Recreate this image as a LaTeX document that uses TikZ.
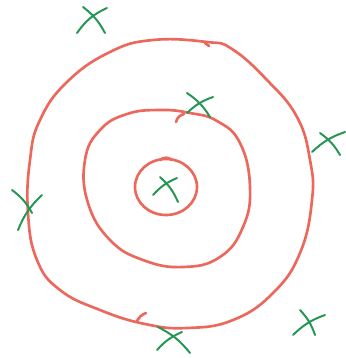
\documentclass[tikz,border=0pt]{standalone}
\usetikzlibrary{calc}

\definecolor{ringred}{RGB}{236,104,92}
\definecolor{crossgreen}{RGB}{38,150,84}

\begin{document}
\begin{tikzpicture}[x=0.0265cm, y=-0.0265cm,
    ring/.style={draw=ringred, line width=2pt, line cap=round, line join=round},
    cross/.style={draw=crossgreen, line width=1.5pt, line cap=round}]
  \useasboundingbox (0,0) rectangle (346,358);
  % Outer ring
  \draw[ring] plot[smooth cycle, tension=0.75] coordinates {
      (153,40) (207,42) (232,49) (267,80) (297,117) (310,160) (312,200)
      (300,253) (273,293) (233,320) (187,328) (145,324) (100,310) (60,290)
      (37,260) (28,213) (30,160) (40,120) (67,82) (110,52)};
  \draw[ring] (137,321) to[bend left=20] (146,313);
  \draw[ring] (205,43) -- (209,46);
  % Middle ring
  \draw[ring] plot[smooth cycle, tension=0.75] coordinates {
      (160,110) (190,113) (217,121) (240,143) (250,187) (243,227) (220,257)
      (183,267) (143,260) (110,240) (88,203) (85,160) (100,130) (127,114)};
  \draw[ring] (176,122) to[bend left=30] (184,114);
  % Inner ring
  \draw[ring] (166,187) ellipse[x radius=31, y radius=28];
  \draw[ring] (160,160) to[bend left=40] (172,160);
  % Crosses
  \draw[cross] (77,33) to[bend left=15] (107,8);
  \draw[cross] (83,7) to[bend left=12] (105,33);
  \draw[cross] (187,93) to[bend left=12] (210,117);
  \draw[cross] (187,113) to[bend left=12] (213,97);
  \draw[cross] (312,152) to[bend left=12] (345,132);
  \draw[cross] (320,133) to[bend left=12] (340,155);
  \draw[cross] (12,190) to[bend left=12] (32,213);
  \draw[cross] (18,230) to[bend left=12] (42,195);
  \draw[cross] (153,195) to[bend left=12] (177,178);
  \draw[cross] (160,177) to[bend left=12] (178,202);
  \draw[cross] (158,327) to[bend left=12] (190,353);
  \draw[cross] (157,350) to[bend left=12] (182,332);
  \draw[cross] (293,335) to[bend left=12] (325,315);
  \draw[cross] (300,310) to[bend left=12] (315,335);
\end{tikzpicture}
\end{document}
